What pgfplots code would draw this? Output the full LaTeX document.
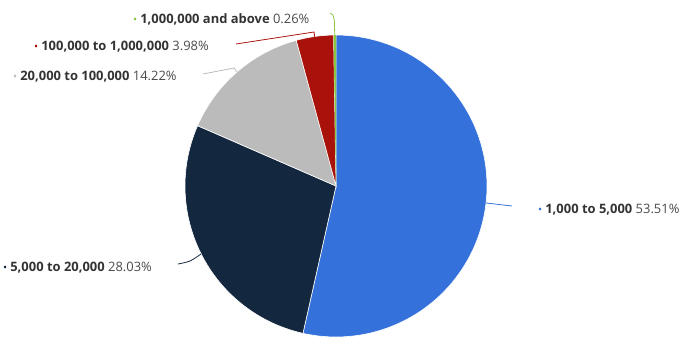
\documentclass[border=0pt]{standalone}
\usepackage{pgfplots}
\pgfplotsset{compat=1.18}
\usepackage{fontspec}
\setmainfont{Open Sans}
\definecolor{cblue}{HTML}{3571DB}
\definecolor{cnavy}{HTML}{13273F}
\definecolor{cgray}{HTML}{BBBBBB}
\definecolor{cred}{HTML}{A8120A}
\definecolor{cgreen}{HTML}{8DC63F}
\definecolor{ctext}{HTML}{333333}
\definecolor{cpct}{HTML}{4A4A4A}
\newcommand{\lab}[3]{{\color{#1}\fontsize{11}{11}\selectfont\textbullet}\hspace{3bp}\textcolor{ctext}{\textbf{#2}} \textcolor{cpct}{#3}}
\tikzset{lbl/.style={anchor=west,inner sep=0pt,font=\fontsize{13}{15}\selectfont}}
\begin{document}
\begin{tikzpicture}
\def\cx{336}\def\cy{186}\def\r{151}
% shares in percent
\def\pA{53.51}\def\pB{28.03}\def\pC{14.22}\def\pD{3.98}\def\pE{0.26}
\pgfmathsetmacro\aA{90}
\pgfmathsetmacro\aB{\aA-\pA*3.6}
\pgfmathsetmacro\aC{\aB-\pB*3.6}
\pgfmathsetmacro\aD{\aC-\pC*3.6}
\pgfmathsetmacro\aE{\aD-\pD*3.6}
\pgfmathsetmacro\aF{\aE-\pE*3.6}
\begin{axis}[width=687bp,height=351bp,scale only axis,xmin=0,xmax=687,ymin=0,ymax=351,y dir=reverse,hide axis,clip=false]
\path (axis cs:0,0) rectangle (axis cs:687,351);
\addplot[draw=white,line width=0.6pt,fill=cblue,domain=\aB:\aA,samples=90] ({\cx+\r*cos(x)},{\cy-\r*sin(x)}) -- (axis cs:\cx,\cy) -- cycle;
\addplot[draw=white,line width=0.6pt,fill=cnavy,domain=\aC:\aB,samples=60] ({\cx+\r*cos(x)},{\cy-\r*sin(x)}) -- (axis cs:\cx,\cy) -- cycle;
\addplot[draw=white,line width=0.6pt,fill=cgray,domain=\aD:\aC,samples=40] ({\cx+\r*cos(x)},{\cy-\r*sin(x)}) -- (axis cs:\cx,\cy) -- cycle;
\addplot[draw=white,line width=0.6pt,fill=cred,domain=\aE:\aD,samples=15] ({\cx+\r*cos(x)},{\cy-\r*sin(x)}) -- (axis cs:\cx,\cy) -- cycle;
\addplot[draw=none,fill=cgreen,domain=\aF:\aE,samples=5] ({\cx+\r*cos(x)},{\cy-\r*sin(x)}) -- (axis cs:\cx,\cy) -- cycle;
% connectors
\addplot[cgreen,line width=0.8pt] coordinates {(334.8,36) (334.3,20) (333,15) (330,13)};
\addplot[cred,line width=0.8pt] coordinates {(314.7,37) (314,32) (236,44)};
\addplot[cgray,line width=0.8pt] coordinates {(237,72) (234,68) (203,74)};
\addplot[cblue,line width=0.8pt] coordinates {(486,203) (512,206)};
\addplot[cnavy,line width=0.8pt,smooth] coordinates {(201,254) (190,261) (178,264)};
% labels
\node[lbl] at (axis cs:133,19) {\lab{cgreen}{1,000,000 and above}{0.26\%}};
\node[lbl] at (axis cs:34,47) {\lab{cred}{100,000 to 1,000,000}{3.98\%}};
\node[lbl] at (axis cs:13,77) {\lab{cgray}{20,000 to 100,000}{14.22\%}};
\node[lbl] at (axis cs:538,210) {\lab{cblue}{1,000 to 5,000}{53.51\%}};
\node[lbl] at (axis cs:3,268) {\lab{cnavy}{5,000 to 20,000}{28.03\%}};
\end{axis}
\end{tikzpicture}
\end{document}
